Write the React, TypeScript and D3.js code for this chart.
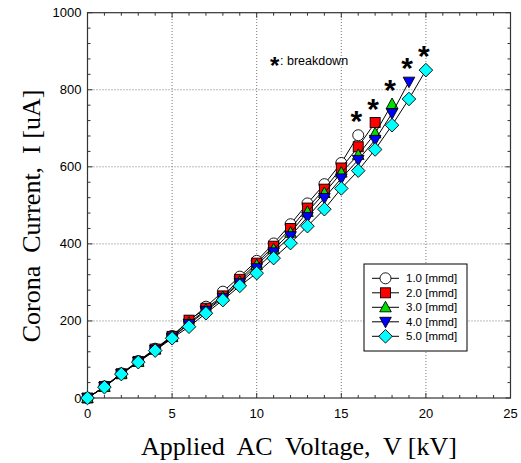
import React from "react";
import * as d3 from "d3";

const voltage = [0, 1, 2, 3, 4, 5, 6, 7, 8, 9, 10, 11, 12, 13, 14, 15, 16, 17, 18, 19, 20];
const gap1 = [0, 30, 64, 96, 128, 161, 200, 237, 276, 315, 356, 401, 451, 505, 555, 610, 682];
const gap2 = [0, 30, 63, 95, 127, 160, 202, 233, 265, 308, 350, 394, 440, 493, 542, 597, 652, 715];
const gap3 = [0, 29, 63, 94, 126, 158, 195, 229, 262, 302, 345, 386, 429, 483, 532, 585, 631, 687, 763];
const gap4 = [0, 29, 62, 94, 125, 157, 192, 226, 259, 298, 337, 378, 420, 470, 519, 570, 618, 670, 739, 821];
const gap5 = [0, 28, 62, 93, 123, 155, 185, 220, 254, 291, 324, 363, 402, 446, 490, 544, 590, 645, 708, 776, 851];
const seriesLabels = ["1.0 [mmd]", "2.0 [mmd]", "3.0 [mmd]", "4.0 [mmd]", "5.0 [mmd]"];
const xTicks = [0, 5, 10, 15, 20, 25];
const yTicks = [0, 200, 400, 600, 800, 1000];

const series = [gap1, gap2, gap3, gap4, gap5];
const colors = ["#ffffff", "#ff0000", "#00e000", "#0000ff", "#00ffff"];
const shapes = ["circle", "square", "up", "down", "diamond"];

const SANS = "'Liberation Sans', Arial, sans-serif";
const SERIF = "'Liberation Serif', 'Times New Roman', serif";

function Marker({ shape, x, y, fill }: { shape: string; x: number; y: number; fill: string }) {
  const s = "#000";
  const sw = 0.9;
  if (shape === "circle") return <circle cx={x} cy={y} r={5.5} fill={fill} stroke={s} strokeWidth={sw} />;
  if (shape === "square") return <rect x={x - 5} y={y - 5} width={10} height={10} fill={fill} stroke={s} strokeWidth={sw} />;
  if (shape === "up")
    return <path d={`M${x},${y - 6}L${x + 5.8},${y + 4.5}L${x - 5.8},${y + 4.5}Z`} fill={fill} stroke={s} strokeWidth={sw} />;
  if (shape === "down")
    return <path d={`M${x},${y + 6}L${x + 5.8},${y - 4.5}L${x - 5.8},${y - 4.5}Z`} fill={fill} stroke={s} strokeWidth={sw} />;
  return <path d={`M${x},${y - 6.8}L${x + 6.8},${y}L${x},${y + 6.8}L${x - 6.8},${y}Z`} fill={fill} stroke={s} strokeWidth={sw} />;
}

export default function App() {
  const W = 521, H = 463;
  const x = d3.scaleLinear().domain([0, 25]).range([87.5, 510.5]);
  const y = d3.scaleLinear().domain([0, 1000]).range([398, 12.7]);
  const line = d3.line<number>().x((_, i) => x(voltage[i])).y((d) => y(d));
  const xMinor = d3.range(0, 25.001, 1);
  const yMinor = d3.range(0, 1000.1, 40);
  const axisColor = "#333";
  const x0 = x(0), x1 = x(25), y0 = y(0), y1 = y(1000);

  return (
    <svg width={W} height={H} style={{ position: "absolute", left: 0, top: 0, background: "#fff" }}>
      {xTicks.slice(1, -1).map((t) => (
        <line key={"gx" + t} x1={x(t)} x2={x(t)} y1={y0} y2={y1} stroke="#777" strokeWidth={1} strokeDasharray="1,2" />
      ))}
      {yTicks.slice(1, -1).map((t) => (
        <line key={"gy" + t} x1={x0} x2={x1} y1={y(t)} y2={y(t)} stroke="#777" strokeWidth={1} strokeDasharray="1,2" />
      ))}
      {xMinor.map((t) => {
        const major = t % 5 === 0;
        const L = major ? 5 : 3;
        return (
          <g key={"xt" + t}>
            <line x1={x(t)} x2={x(t)} y1={y0} y2={y0 - L} stroke={axisColor} />
            <line x1={x(t)} x2={x(t)} y1={y1} y2={y1 + L} stroke={axisColor} />
          </g>
        );
      })}
      {yMinor.map((t) => {
        const major = t % 200 === 0;
        const L = major ? 5 : 3;
        return (
          <g key={"yt" + t}>
            <line x1={x0} x2={x0 + L} y1={y(t)} y2={y(t)} stroke={axisColor} />
            <line x1={x1} x2={x1 - L} y1={y(t)} y2={y(t)} stroke={axisColor} />
          </g>
        );
      })}
      <rect x={x0} y={y1} width={x1 - x0} height={y0 - y1} fill="none" stroke={axisColor} strokeWidth={1.2} />
      {xTicks.map((t) => (
        <text key={"xl" + t} x={x(t)} y={y0 + 20} textAnchor="middle" fontFamily={SANS} fontSize={13} fill="#000">
          {t}
        </text>
      ))}
      {yTicks.map((t) => (
        <text key={"yl" + t} x={x0 - 6} y={y(t) + 4.5} textAnchor="end" fontFamily={SANS} fontSize={13} fill="#000">
          {t}
        </text>
      ))}
      <text x={(x0 + x1) / 2} y={455} textAnchor="middle" fontFamily={SERIF} fontSize={26} fill="#000" style={{ whiteSpace: "pre" }}>
        {"Applied  AC  Voltage,  V [kV]"}
      </text>
      <text
        transform={`translate(40,216) rotate(-90)`}
        textAnchor="middle"
        fontFamily={SERIF}
        fontSize={26}
        fill="#000"
        style={{ whiteSpace: "pre" }}
      >
        {"Corona  Current,  I [uA]"}
      </text>
      <text x={270} y={74} fontFamily={SANS} fontSize={24} fontWeight="bold" fill="#000">*</text>
      <text x={280} y={65} fontFamily={SANS} fontSize={12.5} fill="#000">: breakdown</text>
      {series.map((vals, si) => (
        <g key={"s" + si}>
          <path d={line(vals) || ""} fill="none" stroke="#000" strokeWidth={1} />
          {vals.map((v, i) => (
            <Marker key={i} shape={shapes[si]} x={x(voltage[i])} y={y(v)} fill={colors[si]} />
          ))}
        </g>
      ))}
      {series.map((vals, si) => {
        const i = vals.length - 1;
        return (
          <text
            key={"st" + si}
            x={x(voltage[i]) - 2}
            y={y(vals[i]) - 21 + 17}
            textAnchor="middle"
            fontFamily={SANS}
            fontSize={30}
            fontWeight="bold"
            fill="#000"
          >
            *
          </text>
        );
      })}
      <rect x={364} y={264} width={103} height={87} fill="#fff" stroke="#000" strokeWidth={1} />
      {seriesLabels.map((lab, si) => {
        const ly = 278.3 + si * 14.5;
        return (
          <g key={"lg" + si}>
            <line x1={372} x2={399} y1={ly} y2={ly} stroke="#000" strokeWidth={1} />
            <Marker shape={shapes[si]} x={385.5} y={ly} fill={colors[si]} />
            <text x={406} y={ly + 4} fontFamily={SANS} fontSize={11.5} fill="#000">
              {lab}
            </text>
          </g>
        );
      })}
    </svg>
  );
}
